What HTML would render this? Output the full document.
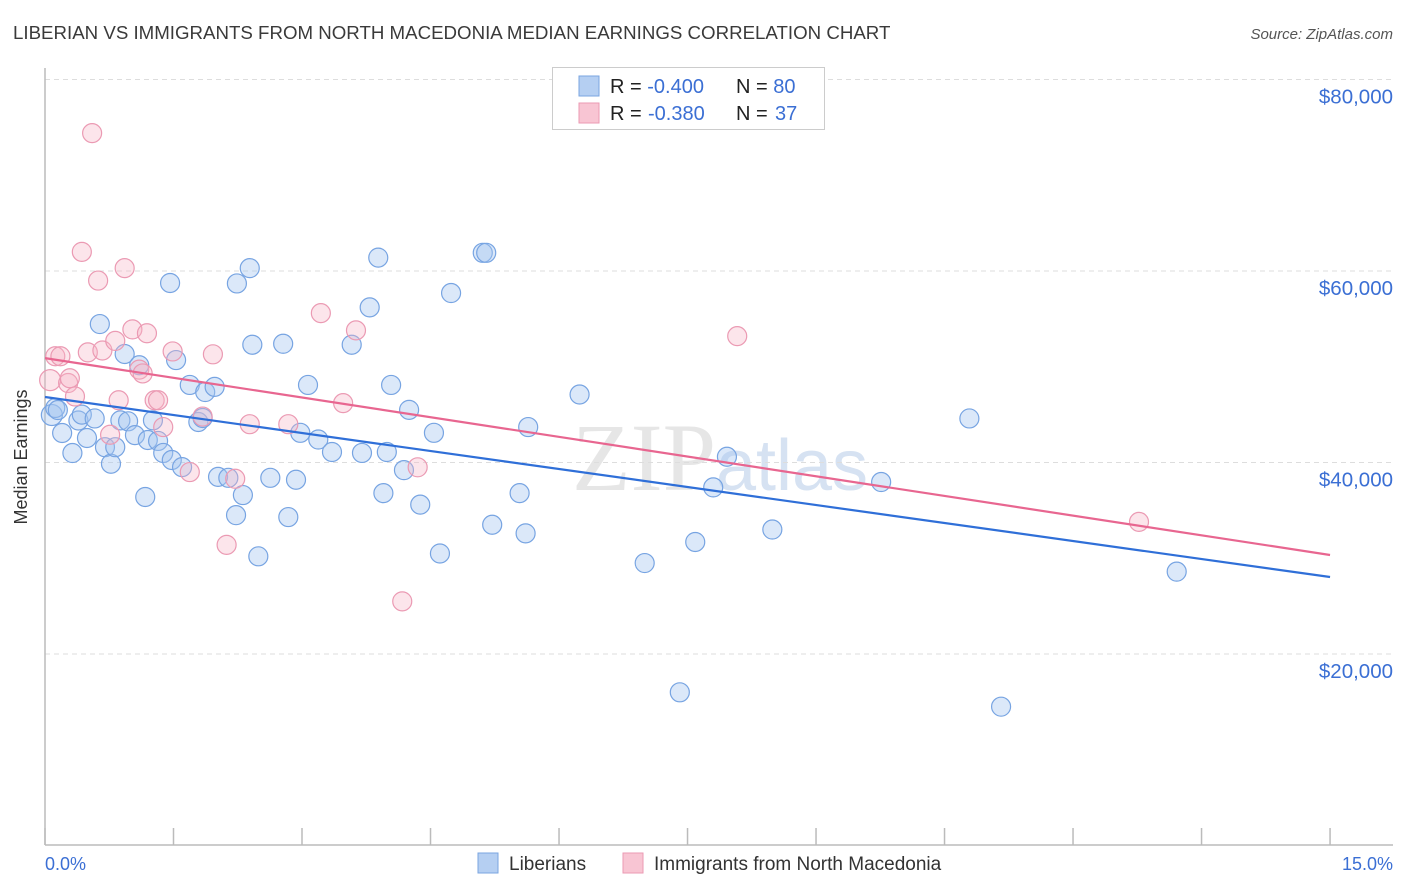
<!DOCTYPE html>
<html><head><meta charset="utf-8"><style>
body{margin:0;background:#fff;font-family:"Liberation Sans",sans-serif;}
#wrap{position:relative;width:1406px;height:892px;overflow:hidden;}
</style></head><body>
<div id="wrap">
<svg id="chart" width="1406" height="892" xmlns="http://www.w3.org/2000/svg">
<text x="13" y="39" font-size="18.7" fill="#3a3a3a">LIBERIAN VS IMMIGRANTS FROM NORTH MACEDONIA MEDIAN EARNINGS CORRELATION CHART</text>
<text x="1393" y="39" font-size="15" fill="#555" font-style="italic" text-anchor="end">Source: ZipAtlas.com</text>
<text x="720" y="490" font-size="96" fill="#e6e6e6" text-anchor="middle" font-family="Liberation Serif,serif">ZIP<tspan font-family="Liberation Sans,sans-serif" font-size="72" fill="#d6e2f2">atlas</tspan></text>
<g id="grid"></g>
<line x1="45" y1="68" x2="45" y2="845" stroke="#bbb" stroke-width="1.5"/>
<line x1="45" y1="845" x2="1393" y2="845" stroke="#bbb" stroke-width="1.5"/>
<g id="xticks"></g>
<text x="27" y="457" font-size="18" fill="#333" text-anchor="middle" transform="rotate(-90 27 457)">Median Earnings</text>
<text x="45" y="870" font-size="18" fill="#3b6fd4">0.0%</text>
<text x="1393" y="870" font-size="18" fill="#3b6fd4" text-anchor="end">15.0%</text>
<g id="pts"></g>
<g id="trends"></g>
<g>
<rect x="552.5" y="67.5" width="272" height="62" fill="#fff" stroke="#ccc"/>
<rect x="579" y="76" width="20" height="20" fill="#b5cff2" stroke="#7aa5e0"/>
<rect x="579" y="103" width="20" height="20" fill="#f8c5d3" stroke="#eb9ab3"/>
<text x="610" y="93" font-size="20" fill="#222">R = <tspan fill="#3b6fd4">-0.400</tspan><tspan x="736">N = </tspan><tspan fill="#3b6fd4">80</tspan></text>
<text x="610" y="120" font-size="20" fill="#222">R = <tspan fill="#3b6fd4" x="648">-0.380</tspan><tspan x="736">N = </tspan><tspan fill="#3b6fd4" x="775">37</tspan></text>
</g>
<g>
<rect x="478" y="853" width="20" height="20" fill="#b5cff2" stroke="#7aa5e0"/>
<text x="509" y="870" font-size="19" fill="#333">Liberians</text>
<rect x="623" y="853" width="20" height="20" fill="#f8c5d3" stroke="#eb9ab3"/>
<text x="654" y="870" font-size="19" fill="#333">Immigrants from North Macedonia</text>
</g>
</svg>
</div>
<script>
const blueX=[0.08,0.12,0.15,0.20,0.32,0.39,0.43,0.49,0.58,0.64,0.70,0.77,0.82,0.88,0.93,0.97,1.05,1.10,1.17,1.20,1.26,1.32,1.38,1.46,1.48,1.53,1.60,1.69,1.79,1.84,1.87,1.98,2.02,2.14,2.23,2.24,2.31,2.39,2.42,2.49,2.63,2.78,2.84,2.93,2.98,3.07,3.19,3.35,3.58,3.70,3.79,3.89,3.95,3.99,4.04,4.19,4.25,4.38,4.54,4.61,4.74,5.11,5.15,5.22,5.54,5.61,5.64,6.24,7.00,7.41,7.59,7.80,7.96,8.49,9.76,10.79,11.16,13.21];
const blueY=[44.96,45.69,45.48,43.08,40.99,44.39,45.0,42.56,44.6,54.46,41.6,39.87,41.6,44.4,51.33,44.3,42.86,50.16,36.4,42.35,44.4,42.25,41.0,58.75,40.26,50.7,39.52,48.1,44.23,44.65,47.36,47.9,38.5,38.4,34.5,58.7,36.6,60.3,52.3,30.2,38.4,52.4,34.3,38.2,43.1,48.1,42.4,41.1,52.3,41.0,56.2,61.4,36.8,41.1,48.1,39.2,45.5,35.6,43.1,30.5,57.7,61.9,61.9,33.5,36.8,32.6,43.7,47.1,29.5,16.0,31.7,37.4,40.6,33.0,37.96,44.6,14.5,28.6];
const pinkX=[0.06,0.12,0.18,0.27,0.29,0.35,0.43,0.50,0.55,0.62,0.67,0.76,0.82,0.86,0.93,1.02,1.10,1.14,1.19,1.28,1.32,1.38,1.49,1.69,1.84,1.96,2.12,2.22,2.39,2.84,3.22,3.48,3.63,4.17,4.35,8.08,12.77];
const pinkY=[48.6,51.1,51.1,48.3,48.8,46.9,62.0,51.5,74.4,59.0,51.7,42.9,52.7,46.5,60.3,53.9,49.7,49.3,53.5,46.5,46.5,43.7,51.6,39.0,44.8,51.3,31.4,38.3,44.0,44.0,55.6,46.2,53.8,25.5,39.5,53.2,33.8];
const blueTrend=[46.84,28.04];
const pinkTrend=[50.9,30.34];
const yTicks=[20,40,60,80];
const yTickLabels=["$20,000","$40,000","$60,000","$80,000"];
const xTicks=[0,1.5,3,4.5,6,7.5,9,10.5,12,13.5,15];

const NS="http://www.w3.org/2000/svg";
const xs=v=>45+v*85.67;
const ys=v=>845.5-v*9.575;
function mk(tag,attrs,parent){const e=document.createElementNS(NS,tag);for(const k in attrs)e.setAttribute(k,attrs[k]);document.getElementById(parent).appendChild(e);return e;}
yTicks.forEach((t,i)=>{
  const l=mk('line',{x1:45,x2:1393,y1:ys(t),y2:ys(t),stroke:'#ddd','stroke-dasharray':'5,4'},'grid');
  
  
  const tx=mk('text',{x:1393,y:ys(t)+24,'font-size':20.5,fill:'#3b6fd4','text-anchor':'end'},'grid');
  tx.textContent=yTickLabels[i];
  
  
});
xTicks.forEach(t=>{
  const l=mk('line',{x1:xs(t),x2:xs(t),y1:828,y2:845,stroke:'#bbb','stroke-width':1.5},'xticks');
  
  
});
function pts(X,Y,fill,stroke,name){
  X.forEach((x,i)=>{
    const r=x<0.1?10.5:9.5;
    const c=mk('circle',{cx:xs(x),cy:ys(Y[i]),r:r,fill:fill,stroke:stroke,'stroke-width':1.2},'pts');
    
    
  });
}
pts(blueX,blueY,'rgba(165,198,240,0.4)','#77a4e2','liberian-point');
pts(pinkX,pinkY,'rgba(246,180,198,0.35)','#eb9ab3','macedonia-point');
const bt=mk('line',{x1:xs(0),y1:ys(blueTrend[0]),x2:xs(15),y2:ys(blueTrend[1]),stroke:'#2f6fd8','stroke-width':2.2},'trends');


const pt=mk('line',{x1:xs(0),y1:ys(pinkTrend[0]),x2:xs(15),y2:ys(pinkTrend[1]),stroke:'#e86690','stroke-width':2.2},'trends');


</script>
</body></html>
